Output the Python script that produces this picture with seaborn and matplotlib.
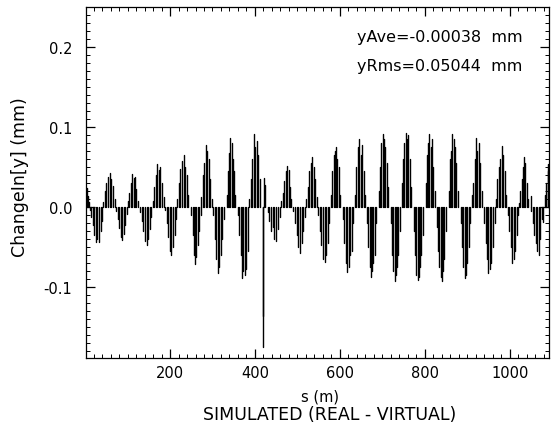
import numpy as np
import pandas as pd
import matplotlib
matplotlib.use("Agg")
import matplotlib.pyplot as plt
import seaborn as sns
import seaborn.objects as so
from matplotlib.ticker import MultipleLocator, FormatStrFormatter, FixedLocator

# ---- data (s in m, change in y in mm) ----
s_m = [
    2, 4, 6, 8,
    12, 15, 19, 22, 26, 29, 33, 37, 40,
    43, 46, 50, 54, 58, 62, 66, 70,
    73, 77, 80, 84, 88, 91, 95, 98,
    100, 103, 107, 110, 114, 117, 121, 124,
    130, 134, 137, 141, 145, 148, 152, 156,
    159, 163, 166, 170, 174, 177, 181, 185,
    188, 192, 195, 199, 203, 207, 211, 215,
    217, 221, 224, 228, 232, 235, 239, 243,
    250, 253, 256, 259, 262, 265, 268, 272,
    274, 277, 281, 284, 288, 291, 294, 298,
    302, 306, 309, 313, 316, 320, 323, 327,
    333, 336, 339, 342, 345, 348, 351, 354,
    359, 362, 366, 369, 372, 376, 379, 383,
    387, 390, 394, 397, 401, 404, 408, 412,
    418, 419, 421, 424,
    430, 434, 438, 442, 446, 450, 454, 458,
    462, 465, 469, 472, 476, 479, 483, 486,
    490, 494, 498, 502, 506, 510, 514, 518,
    521, 524, 528, 531, 535, 538, 542, 545,
    549, 553, 556, 560, 564, 567, 571, 575,
    579, 582, 585, 588, 591, 594, 597, 601,
    607, 610, 614, 617, 621, 624, 628, 632,
    636, 639, 643, 646, 650, 653, 657, 660,
    664, 667, 670, 673, 676, 679, 682, 686,
    692, 695, 698, 701, 704, 707, 710, 714,
    720, 723, 726, 729, 732, 735, 738, 742,
    746, 749, 752, 755, 758, 761, 764, 767,
    774, 777, 780, 783, 786, 789, 792, 795,
    802, 805, 808, 811, 814, 817, 820, 824,
    828, 831, 834, 837, 840, 843, 846, 850,
    856, 859, 862, 865, 868, 871, 874, 878,
    885, 888, 891, 894, 897, 900, 903, 907,
    911, 914, 918, 921, 924, 928, 931, 935,
    939, 943, 946, 950, 954, 957, 961, 965,
    968, 971, 975, 978, 982, 985, 989, 992,
    996, 999, 1003, 1006, 1010, 1013, 1017, 1020,
    1022, 1025, 1028, 1031, 1034, 1037, 1040, 1044,
    1049,
    1051, 1054, 1058, 1061, 1065, 1068, 1072, 1075,
    1078,
    1083, 1086, 1089, 1091,
]
dy_mm = [
    0.018, 0.024, 0.014, 0.006,
    -0.004, -0.012, -0.022, -0.035, -0.044, -0.040, -0.044, -0.030, -0.018,
    0.006, 0.020, 0.030, 0.038, 0.043, 0.035, 0.026, 0.010,
    -0.005, -0.015, -0.026, -0.037, -0.041, -0.034, -0.022, -0.009,
    0.007, 0.018, 0.030, 0.041, 0.036, 0.038, 0.022, 0.008,
    -0.006, -0.017, -0.030, -0.042, -0.047, -0.040, -0.028, -0.012,
    0.008, 0.025, 0.040, 0.054, 0.046, 0.050, 0.030, 0.012,
    -0.004, -0.020, -0.038, -0.055, -0.060, -0.050, -0.035, -0.015,
    0.010, 0.030, 0.048, 0.058, 0.065, 0.050, 0.040, 0.015,
    -0.010, -0.035, -0.060, -0.071, -0.062, -0.048, -0.030, -0.010,
    0.012, 0.040, 0.055, 0.078, 0.070, 0.060, 0.035, 0.010,
    -0.010, -0.040, -0.065, -0.083, -0.075, -0.060, -0.040, -0.015,
    0.015, 0.045, 0.068, 0.086, 0.080, 0.060, 0.045, 0.015,
    -0.010, -0.035, -0.060, -0.089, -0.080, -0.085, -0.077, -0.055,
    0.010, 0.035, 0.060, 0.091, 0.075, 0.082, 0.065, 0.035,
    -0.136, -0.175, 0.036, 0.027,
    -0.006, -0.018, -0.030, -0.025, -0.040, -0.043, -0.028, -0.012,
    0.008, 0.018, 0.032, 0.045, 0.051, 0.046, 0.025, 0.010,
    -0.005, -0.020, -0.035, -0.050, -0.057, -0.045, -0.030, -0.012,
    0.010, 0.025, 0.045, 0.055, 0.062, 0.050, 0.035, 0.012,
    -0.010, -0.030, -0.048, -0.065, -0.069, -0.060, -0.045, -0.020,
    0.015, 0.045, 0.065, 0.070, 0.075, 0.060, 0.050, 0.015,
    -0.015, -0.045, -0.070, -0.081, -0.075, -0.060, -0.055, -0.020,
    0.015, 0.050, 0.075, 0.085, 0.065, 0.078, 0.045, 0.015,
    -0.020, -0.050, -0.075, -0.088, -0.080, -0.070, -0.060, -0.020,
    0.020, 0.050, 0.080, 0.091, 0.085, 0.075, 0.055, 0.025,
    -0.020, -0.060, -0.080, -0.092, -0.085, -0.075, -0.060, -0.030,
    0.030, 0.060, 0.080, 0.0925, 0.085, 0.090, 0.060, 0.025,
    -0.030, -0.060, -0.085, -0.091, -0.088, -0.075, -0.060, -0.035,
    0.030, 0.065, 0.080, 0.091, 0.075, 0.085, 0.050, 0.020,
    -0.025, -0.055, -0.075, -0.088, -0.092, -0.080, -0.065, -0.030,
    0.020, 0.060, 0.070, 0.091, 0.085, 0.075, 0.055, 0.020,
    -0.020, -0.050, -0.075, -0.089, -0.085, -0.070, -0.050, -0.020,
    0.015, 0.030, 0.060, 0.086, 0.070, 0.080, 0.055, 0.020,
    -0.020, -0.045, -0.065, -0.082, -0.078, -0.070, -0.050, -0.020,
    0.010, 0.035, 0.050, 0.060, 0.076, 0.065, 0.045, 0.015,
    -0.010, -0.030, -0.050, -0.070, -0.065, -0.055, -0.035, -0.010,
    0.005, 0.020, 0.035, 0.050, 0.063, 0.055, 0.030, 0.010,
    0.014,
    -0.005, -0.020, -0.035, -0.045, -0.055, -0.060, -0.040, -0.015,
    -0.019,
    0.015, 0.030, 0.045, 0.054,
]

x_ticks = [200, 400, 600, 800, 1000]
y_ticks = [-0.1, 0.0, 0.1, 0.2]
x_label = "s (m)"
y_label = "ChangeIn[y] (mm)"
title_bottom = "SIMULATED (REAL - VIRTUAL)"
stat_lines = ["yAve=-0.00038  mm", "yRms=0.05044  mm"]

sns.set_theme(style="ticks")
plt.rcParams['font.family'] = ['DejaVu Sans']

fig = plt.figure(figsize=(5.51, 4.31), dpi=100)
ax = fig.add_axes([0.156, 0.167, 0.840, 0.814])

df = pd.DataFrame({"s": s_m, "dy": dy_mm})
df["base"] = 0.0

(
    so.Plot(df, x="s", ymin="base", ymax="dy")
    .add(so.Range(color="black", linewidth=1.0))
    .on(ax)
    .plot()
)

ax.set_facecolor("white")
ax.grid(False)
ax.set_xlim(2, 1092)
ax.set_ylim(-0.189, 0.25)
ax.set_xlabel("")
ax.set_ylabel("")

ax.xaxis.set_major_locator(FixedLocator(x_ticks))
ax.xaxis.set_minor_locator(MultipleLocator(20))
ax.yaxis.set_major_locator(FixedLocator(y_ticks))
ax.yaxis.set_minor_locator(MultipleLocator(0.01))
ax.yaxis.set_major_formatter(FormatStrFormatter("%.1f"))
ax.xaxis.set_major_formatter(FormatStrFormatter("%d"))

for sp in ax.spines.values():
    sp.set_visible(True)
    sp.set_color("black")
    sp.set_linewidth(0.9)

ax.tick_params(which="major", direction="in", top=True, right=True,
               length=6.5, width=0.9, color="black", labelsize=10.5,
               labelcolor="black")
ax.tick_params(which="minor", direction="in", top=True, right=True,
               length=3, width=0.7, color="black")
ax.tick_params(axis="y", which="major", pad=10)
ax.tick_params(axis="x", which="major", pad=5)

fig.text(0.581, 0.079, x_label, ha="center", va="center", fontsize=10.5, color="black")
fig.text(0.599, 0.038, title_bottom, ha="center", va="center", fontsize=12.5, color="black")
fig.text(0.036, 0.589, y_label, ha="center", va="center", rotation=90, fontsize=12.5, color="black")
fig.text(0.648, 0.912, stat_lines[0], ha="left", va="center", fontsize=11.5, color="black")
fig.text(0.648, 0.845, stat_lines[1], ha="left", va="center", fontsize=11.5, color="black")

fig.savefig("out.png", dpi=100)
